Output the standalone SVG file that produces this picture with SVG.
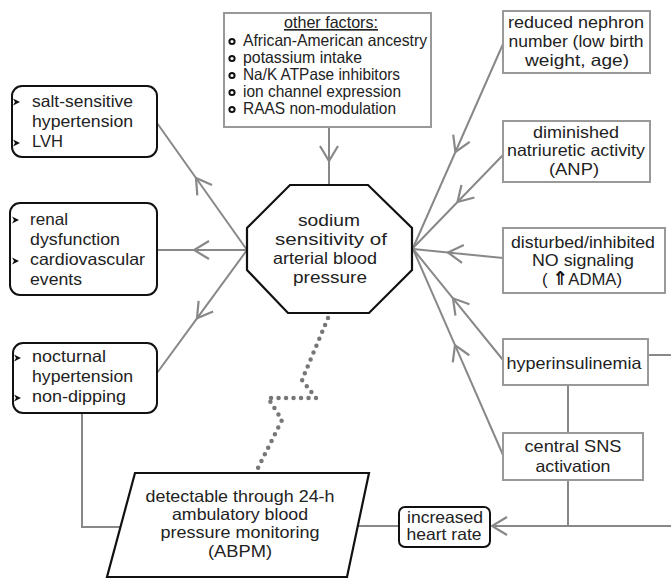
<svg xmlns="http://www.w3.org/2000/svg" width="671" height="579" viewBox="0 0 671 579">
<style>
text{font-family:"Liberation Sans",Arial,sans-serif;fill:#222;font-size:16.5px}
.c{text-anchor:middle}
.gbox{fill:#fff;stroke:#999;stroke-width:2}
.bbox{fill:#fff;stroke:#111;stroke-width:2}
.con{fill:none;stroke:#888;stroke-width:2}
.dot{fill:none;stroke:#777;stroke-width:4.5;stroke-linecap:round;stroke-dasharray:0 7.5}
</style>
<defs>
<marker id="chev" viewBox="-18 -11 20 22" markerWidth="20" markerHeight="22" refX="0" refY="0" orient="auto" markerUnits="userSpaceOnUse">
<path d="M-15,-9 L0,0 L-15,9" fill="none" stroke="#888" stroke-width="2.2"/>
</marker>
<path id="bul" d="M0,-3.5 L7,0 L0,3.5 L2,0 Z" fill="#111"/>
</defs>

<g id="connectors">
<polyline class="con" points="329,127 329,161 329,185" marker-mid="url(#chev)"/>
<polyline class="con" points="247,250 196,178 157,123" marker-mid="url(#chev)"/>
<polyline class="con" points="247,250 194,250 157,250" marker-mid="url(#chev)"/>
<polyline class="con" points="247,250 197,318.3 157,373" marker-mid="url(#chev)"/>
<polyline class="con" points="503,44 455.4,152 413,248" marker-mid="url(#chev)"/>
<polyline class="con" points="503,155 457.5,202 413,248" marker-mid="url(#chev)"/>
<polyline class="con" points="503,258 448,252.5 413,249" marker-mid="url(#chev)"/>
<polyline class="con" points="503,360 453,298.3 413,249" marker-mid="url(#chev)"/>
<polyline class="con" points="503,455 455,345.1 413,249" marker-mid="url(#chev)"/>
<path class="con" d="M671,526 L492,526" marker-end="url(#chev)"/>
<path class="con" d="M648,355 L671,355"/>
<path class="con" d="M568,385 L568,433"/>
<path class="con" d="M568,480 L568,526"/>
<path class="con" d="M82,413 L82,527 L120,527"/>
<path class="con" d="M358,526 L399,526"/>
<path class="dot" d="M328,318 L302,380 L316,398 L268,398 L282,420 L256,472"/>
</g>

<g id="other-factors">
<rect class="gbox" x="224" y="13" width="207" height="114"/>
<text class="c" x="331" y="28" font-size="16" text-decoration="underline" textLength="94" lengthAdjust="spacingAndGlyphs">other factors:</text>
<g fill="none" stroke="#111" stroke-width="2">
<circle cx="232" cy="41.5" r="2.6"/>
<circle cx="232" cy="58.5" r="2.6"/>
<circle cx="232" cy="75.5" r="2.6"/>
<circle cx="232" cy="92.5" r="2.6"/>
<circle cx="232" cy="109.5" r="2.6"/>
</g>
<g font-size="16">
<text x="243" y="46" textLength="184" lengthAdjust="spacingAndGlyphs">African-American ancestry</text>
<text x="243" y="63" textLength="119" lengthAdjust="spacingAndGlyphs">potassium intake</text>
<text x="243" y="80" textLength="157" lengthAdjust="spacingAndGlyphs">Na/K ATPase inhibitors</text>
<text x="243" y="97" textLength="158" lengthAdjust="spacingAndGlyphs">ion channel expression</text>
<text x="243" y="114" textLength="153" lengthAdjust="spacingAndGlyphs">RAAS non-modulation</text>
</g>
</g>

<g id="sodium-sensitivity">
<polygon points="290,185 368,185 412,228 412,270 369,313 288,313 247,270 247,228" fill="#fff" stroke="#111" stroke-width="2.2"/>
<text class="c" x="329" y="226" textLength="62" lengthAdjust="spacingAndGlyphs">sodium</text>
<text class="c" x="331" y="245" textLength="112" lengthAdjust="spacingAndGlyphs">sensitivity of</text>
<text class="c" x="325" y="264" textLength="104" lengthAdjust="spacingAndGlyphs">arterial blood</text>
<text class="c" x="330" y="283" textLength="74" lengthAdjust="spacingAndGlyphs">pressure</text>
</g>

<g id="salt-sensitive">
<rect class="bbox" x="12" y="86" width="145" height="71" rx="10"/>
<use href="#bul" x="13" y="102"/>
<use href="#bul" x="13" y="143"/>
<text x="32" y="107" textLength="101" lengthAdjust="spacingAndGlyphs">salt-sensitive</text>
<text x="32" y="127" textLength="101" lengthAdjust="spacingAndGlyphs">hypertension</text>
<text x="32" y="147" textLength="31" lengthAdjust="spacingAndGlyphs">LVH</text>
</g>

<g id="renal">
<rect class="bbox" x="10" y="203" width="147" height="92" rx="10"/>
<use href="#bul" x="12" y="220"/>
<use href="#bul" x="12" y="261"/>
<text x="30" y="225" textLength="38" lengthAdjust="spacingAndGlyphs">renal</text>
<text x="30" y="245" textLength="90" lengthAdjust="spacingAndGlyphs">dysfunction</text>
<text x="30" y="265" textLength="115" lengthAdjust="spacingAndGlyphs">cardiovascular</text>
<text x="30" y="285" textLength="52" lengthAdjust="spacingAndGlyphs">events</text>
</g>

<g id="nocturnal">
<rect class="bbox" x="13" y="343" width="144" height="70" rx="10"/>
<use href="#bul" x="14" y="358"/>
<use href="#bul" x="14" y="398"/>
<text x="32" y="362" textLength="74" lengthAdjust="spacingAndGlyphs">nocturnal</text>
<text x="32" y="382" textLength="101" lengthAdjust="spacingAndGlyphs">hypertension</text>
<text x="32" y="402" textLength="94" lengthAdjust="spacingAndGlyphs">non-dipping</text>
</g>

<g id="nephron">
<rect class="gbox" x="503" y="11" width="147" height="62"/>
<text class="c" x="576" y="28" textLength="136" lengthAdjust="spacingAndGlyphs">reduced nephron</text>
<text class="c" x="576" y="47" textLength="135" lengthAdjust="spacingAndGlyphs">number (low birth</text>
<text class="c" x="577" y="66" textLength="104" lengthAdjust="spacingAndGlyphs">weight, age)</text>
</g>

<g id="natriuretic">
<rect class="gbox" x="503" y="121" width="147" height="61"/>
<text class="c" x="576" y="138" textLength="86" lengthAdjust="spacingAndGlyphs">diminished</text>
<text class="c" x="576" y="156" textLength="138" lengthAdjust="spacingAndGlyphs">natriuretic activity</text>
<text class="c" x="574" y="175" textLength="50" lengthAdjust="spacingAndGlyphs">(ANP)</text>
</g>

<g id="no-signaling">
<rect class="gbox" x="503" y="228" width="162" height="65"/>
<text class="c" x="583" y="248" textLength="144" lengthAdjust="spacingAndGlyphs">disturbed/inhibited</text>
<text class="c" x="583" y="266" textLength="102" lengthAdjust="spacingAndGlyphs">NO signaling</text>
<text class="c" x="582" y="285" textLength="80" lengthAdjust="spacingAndGlyphs">( <tspan font-family="'DejaVu Sans',sans-serif" font-weight="bold" font-size="19" fill="#111">⇑</tspan>ADMA)</text>
</g>

<g id="hyperinsulinemia">
<rect class="gbox" x="503" y="339" width="145" height="46"/>
<text class="c" x="574" y="369" textLength="135" lengthAdjust="spacingAndGlyphs">hyperinsulinemia</text>
</g>

<g id="sns">
<rect class="gbox" x="503" y="433" width="140" height="47"/>
<text class="c" x="573" y="452" textLength="97" lengthAdjust="spacingAndGlyphs">central SNS</text>
<text class="c" x="573" y="472" textLength="75" lengthAdjust="spacingAndGlyphs">activation</text>
</g>

<g id="heart-rate">
<rect class="bbox" x="399" y="507" width="91" height="40" rx="6"/>
<text class="c" x="445" y="523" font-size="15.5" textLength="76" lengthAdjust="spacingAndGlyphs">increased</text>
<text class="c" x="444" y="540" font-size="15.5" textLength="75" lengthAdjust="spacingAndGlyphs">heart rate</text>
</g>

<g id="abpm">
<polygon points="135,473 369,473 347,577 107,577" fill="#fff" stroke="#111" stroke-width="2.2"/>
<text class="c" x="240" y="502" textLength="189" lengthAdjust="spacingAndGlyphs">detectable through 24-h</text>
<text class="c" x="240" y="520" textLength="136" lengthAdjust="spacingAndGlyphs">ambulatory blood</text>
<text class="c" x="240" y="538" textLength="159" lengthAdjust="spacingAndGlyphs">pressure monitoring</text>
<text class="c" x="240" y="557" textLength="64" lengthAdjust="spacingAndGlyphs">(ABPM)</text>
</g>
</svg>
